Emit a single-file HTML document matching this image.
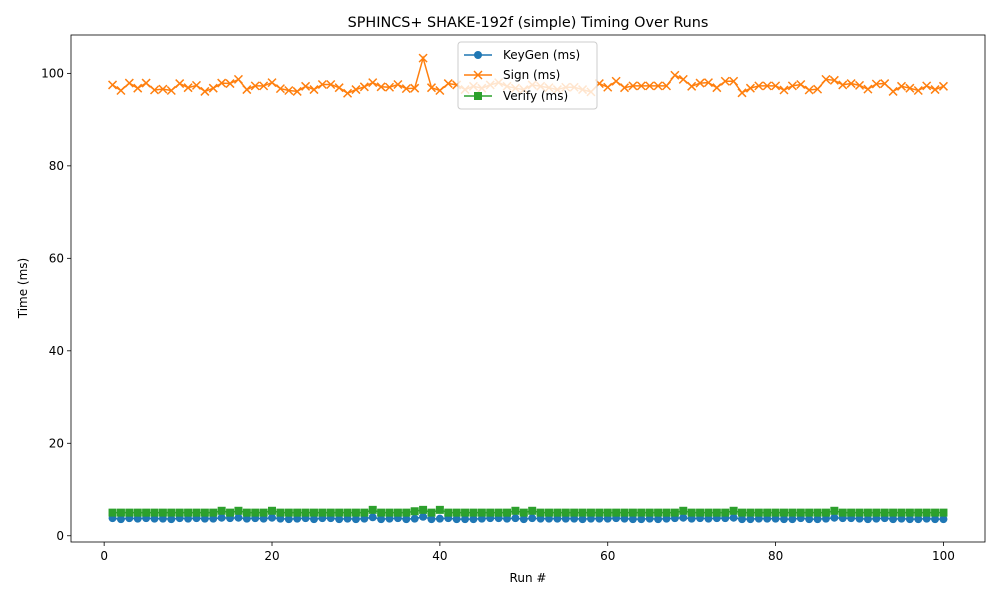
<!DOCTYPE html>
<html><head><meta charset="utf-8"><style>
body{margin:0;background:#fff;font-family:"Liberation Sans","DejaVu Sans",sans-serif}
svg text{font-family:"DejaVu Sans","Liberation Sans",sans-serif}
</style></head><body>
<svg id="chart" width="1000" height="600" xmlns="http://www.w3.org/2000/svg">
<rect width="1000" height="600" fill="#fff"/>
<text x="528" y="27" font-size="14.4" text-anchor="middle">SPHINCS+ SHAKE-192f (simple) Timing Over Runs</text>
<g id="plot"></g>
<rect x="71" y="35" width="914" height="507" fill="none" stroke="#000" stroke-width="0.8"/>
<text x="528" y="582" font-size="12" text-anchor="middle">Run #</text>
<text transform="translate(27,288) rotate(-90)" font-size="12" text-anchor="middle">Time (ms)</text>
<g>
<rect x="458" y="42" width="139" height="67" rx="3" fill="#fff" fill-opacity="0.8" stroke="#ccc"/>
<line x1="464" y1="55" x2="492" y2="55" stroke="#1f77b4" stroke-width="1.5"/><circle cx="478" cy="55" r="4" fill="#1f77b4"/>
<text x="503" y="59" font-size="12">KeyGen (ms)</text>
<line x1="464" y1="75" x2="492" y2="75" stroke="#ff7f0e" stroke-width="1.5"/><path d="M474,71L482,79M474,79L482,71" stroke="#ff7f0e" stroke-width="1.5"/>
<text x="503" y="79" font-size="12">Sign (ms)</text>
<line x1="464" y1="96" x2="492" y2="96" stroke="#2ca02c" stroke-width="1.5"/><rect x="474" y="92" width="8" height="8" fill="#2ca02c"/>
<text x="503" y="100" font-size="12">Verify (ms)</text>
</g>
</svg>
<script>
const signValues=[97.5,96.3,97.9,96.8,97.9,96.4,96.6,96.3,97.8,96.9,97.4,96.1,96.8,97.9,97.8,98.7,96.5,97.3,97.3,98.0,96.7,96.3,96.1,97.2,96.5,97.6,97.6,96.9,95.7,96.5,97.1,98.0,97.1,97.0,97.6,96.7,96.8,103.3,96.9,96.3,97.8,97.5,96.5,97.2,96.8,97.5,98.0,97.2,96.8,96.5,97.5,97.2,96.9,96.5,97.0,97.0,96.5,96.0,97.8,97.0,98.3,96.9,97.3,97.3,97.3,97.3,97.3,99.6,98.7,97.2,97.9,98.0,96.9,98.3,98.3,95.8,96.8,97.3,97.3,97.3,96.4,97.3,97.6,96.4,96.6,98.7,98.5,97.5,97.8,97.4,96.6,97.7,97.8,96.1,97.2,96.8,96.3,97.3,96.5,97.2];
const keygenValues=[3.8,3.6,3.8,3.7,3.8,3.7,3.7,3.6,3.8,3.7,3.8,3.7,3.7,3.9,3.8,3.9,3.7,3.8,3.7,3.9,3.7,3.6,3.7,3.8,3.6,3.8,3.8,3.6,3.7,3.6,3.7,4.0,3.6,3.7,3.8,3.6,3.7,4.1,3.6,3.7,3.8,3.6,3.6,3.6,3.7,3.8,3.8,3.7,3.8,3.6,3.8,3.7,3.7,3.7,3.7,3.7,3.6,3.7,3.7,3.7,3.8,3.7,3.6,3.6,3.7,3.6,3.7,3.8,3.9,3.7,3.8,3.7,3.8,3.8,3.9,3.6,3.6,3.7,3.7,3.7,3.6,3.6,3.8,3.6,3.6,3.7,3.9,3.8,3.8,3.7,3.6,3.7,3.8,3.6,3.7,3.6,3.6,3.7,3.6,3.6];
const verifyValues=[5.0,5.0,5.0,5.0,5.0,5.0,5.0,5.0,5.0,5.0,5.0,5.0,5.0,5.4,5.0,5.4,5.0,5.0,5.0,5.4,5.0,5.0,5.0,5.0,5.0,5.0,5.0,5.0,5.0,5.0,5.0,5.6,5.0,5.0,5.0,5.0,5.3,5.6,5.0,5.6,5.0,5.0,5.0,5.0,5.0,5.0,5.0,5.0,5.4,5.0,5.4,5.0,5.0,5.0,5.0,5.0,5.0,5.0,5.0,5.0,5.0,5.0,5.0,5.0,5.0,5.0,5.0,5.0,5.4,5.0,5.0,5.0,5.0,5.0,5.4,5.0,5.0,5.0,5.0,5.0,5.0,5.0,5.0,5.0,5.0,5.0,5.4,5.0,5.0,5.0,5.0,5.0,5.0,5.0,5.0,5.0,5.0,5.0,5.0,5.0];
const xTicks=[0,20,40,60,80,100];
const yTicks=[0,20,40,60,80,100];
const NS="http://www.w3.org/2000/svg";
const X0=71,X1=985,Y0=542,Y1=35,xmin=-3.95,xmax=104.95,ymin=-1.35,ymax=108.3;
const xs=v=>X0+(v-xmin)/(xmax-xmin)*(X1-X0);
const ys=v=>Y0-(v-ymin)/(ymax-ymin)*(Y0-Y1);
const g=document.getElementById('plot');
function mk(t,a){const e=document.createElementNS(NS,t);for(const k in a)e.setAttribute(k,a[k]);g.appendChild(e);return e;}
xTicks.forEach(t=>{const x=xs(t);
const l=mk('line',{x1:x,x2:x,y1:Y0,y2:Y0+4,stroke:'#000','stroke-width':0.8});


const tx=mk('text',{x:x,y:Y0+18,'font-size':12,'text-anchor':'middle'});tx.textContent=t;

});
yTicks.forEach(t=>{const y=ys(t);
const l=mk('line',{x1:X0-4,x2:X0,y1:y,y2:y,stroke:'#000','stroke-width':0.8});


const tx=mk('text',{x:X0-7,y:y+4,'font-size':12,'text-anchor':'end'});tx.textContent=t;

});
function series(vals,color,marker,name){
const pts=vals.map((v,i)=>xs(i+1).toFixed(1)+','+ys(v).toFixed(1)).join(' ');
const pl=mk('polyline',{points:pts,fill:'none',stroke:color,'stroke-width':1.5});


vals.forEach((v,i)=>{const x=xs(i+1),y=ys(v);let m;
if(marker==='o')m=mk('circle',{cx:x,cy:y,r:4,fill:color});
else if(marker==='s')m=mk('rect',{x:x-4,y:y-4,width:8,height:8,fill:color});
else m=mk('path',{d:`M${x-4},${y-4}L${x+4},${y+4}M${x-4},${y+4}L${x+4},${y-4}`,stroke:color,'stroke-width':1.5});

});}
series(keygenValues,'#1f77b4','o','keygen');
series(signValues,'#ff7f0e','x','sign');
series(verifyValues,'#2ca02c','s','verify');
</script>
</body></html>
